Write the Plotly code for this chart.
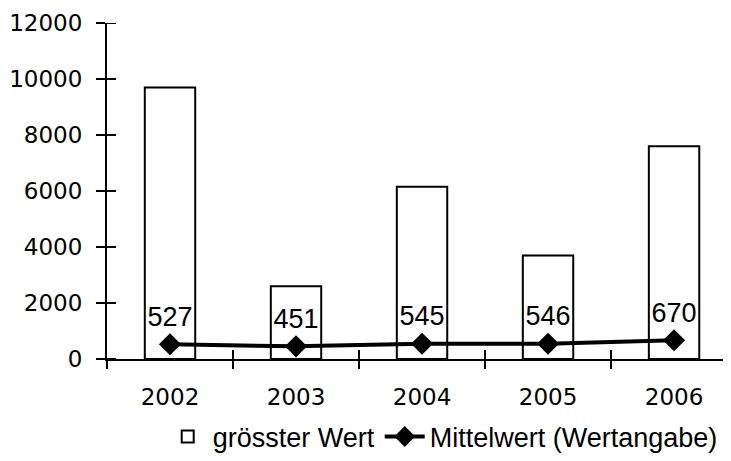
import plotly.graph_objects as go

years = ["2002", "2003", "2004", "2005", "2006"]
max_values = [9700, 2600, 6150, 3700, 7600]
mean_values = [527, 451, 545, 546, 670]
y_ticks = [0, 2000, 4000, 6000, 8000, 10000, 12000]
y_tick_labels = ["0", "2000", "4000", "6000", "8000", "10000", "12000"]

tick_font = dict(family="DejaVu Sans", size=23, color="#000")
label_font = dict(family="Liberation Sans", size=27, color="#000")

fig = go.Figure()
fig.add_trace(go.Bar(
    x=years, y=max_values, name="grösster Wert",
    marker=dict(color="white", line=dict(color="black", width=2)),
    width=0.4,
))
fig.add_trace(go.Scatter(
    x=years, y=mean_values, name="Mittelwert (Wertangabe)",
    mode="lines+markers+text",
    text=[str(v) for v in mean_values],
    textposition="top center",
    textfont=label_font,
    line=dict(color="black", width=4),
    marker=dict(symbol="diamond", size=17, color="black"),
))

xr = [-0.5, 4.452]
plot_w, plot_h = 624, 336

# inner halves of the crossing tick marks
tick_shapes = []
for v in y_ticks:
    tick_shapes.append(dict(type="line", xref="paper", yref="y", x0=0, x1=9 / plot_w,
                            y0=v, y1=v, line=dict(color="black", width=2)))
for i in range(len(years)):
    tick_shapes.append(dict(type="line", xref="x", yref="paper", x0=i + 0.5, x1=i + 0.5,
                            y0=0, y1=9 / plot_h, line=dict(color="black", width=2)))

# page body has an 8px default margin, so the figure is 8px smaller
fig.update_layout(
    width=723, height=453,
    margin=dict(l=99, r=0, t=15, b=102, autoexpand=False),
    plot_bgcolor="white", paper_bgcolor="white",
    showlegend=True,
    shapes=tick_shapes,
    legend=dict(orientation="h", x=0.538, xanchor="center", y=-0.232, yanchor="middle",
                font=label_font, bgcolor="rgba(0,0,0,0)", itemwidth=40),
    xaxis=dict(type="category", range=xr, tickson="boundaries", automargin=False,
               ticks="outside", ticklen=8, tickwidth=2, tickcolor="black",
               showline=True, linecolor="black", linewidth=2, ticklabelstandoff=16,
               showgrid=False, zeroline=False, tickfont=tick_font),
    yaxis=dict(range=[0, 12000], tickvals=y_ticks, ticktext=y_tick_labels,
               ticks="outside", ticklen=9, automargin=False, ticklabelstandoff=9,
               tickwidth=2, tickcolor="black", showline=True, linecolor="black",
               linewidth=2, showgrid=False, zeroline=False, tickfont=tick_font),
)
fig.write_html("out.html")
